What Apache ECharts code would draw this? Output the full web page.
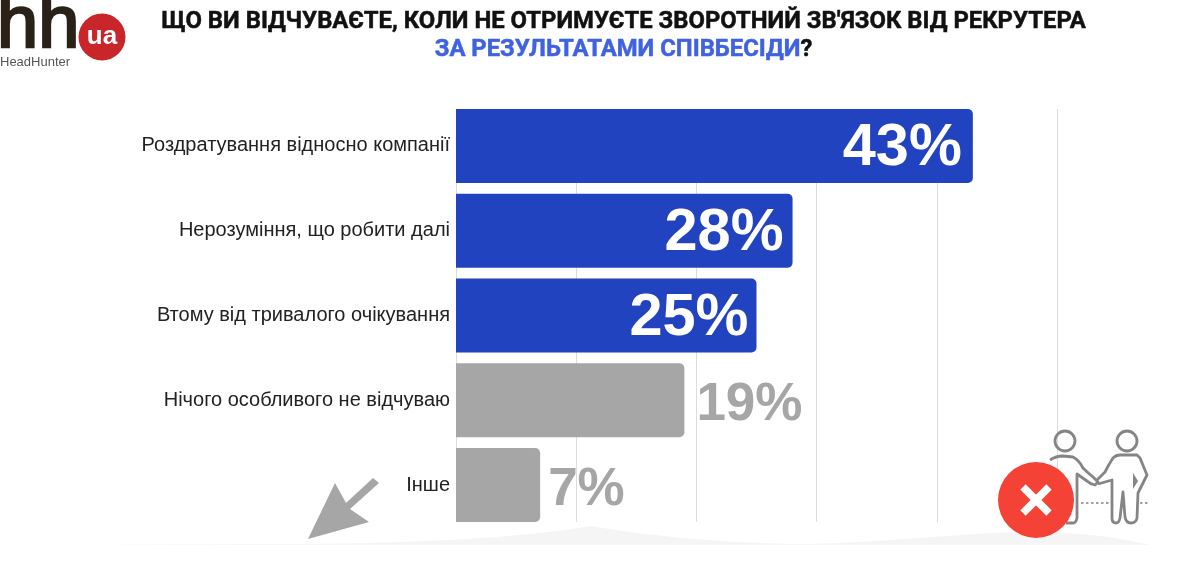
<!DOCTYPE html>
<html>
<head>
<meta charset="utf-8">
<style>html,body{margin:0;padding:0;background:#fff}#chart{width:1200px;height:566px}</style>
<script src="https://cdn.jsdelivr.net/npm/echarts@6/dist/echarts.min.js"></script>
</head>
<body>
<div id="chart"></div>
<script>
const categories = ['Роздратування відносно компанії', 'Нерозуміння, що робити далі', 'Втому від тривалого очікування', 'Нічого особливого не відчуваю', 'Інше'];
const values = [43, 28, 25, 19, 7];
const barColors = ['#2143c0', '#2143c0', '#2143c0', '#a6a6a6', '#a6a6a6'];
const labelInside = [true, true, true, false, false];
const labelNudgeX = [0, 2, 3, 1, -3];
const titleDark = 'ЩО ВИ ВІДЧУВАЄТЕ, КОЛИ НЕ ОТРИМУЄТЕ ЗВОРОТНИЙ ЗВ\'ЯЗОК ВІД РЕКРУТЕРА';
const titleBlue = 'ЗА РЕЗУЛЬТАТАМИ СПІВБЕСІДИ';

const chart = echarts.init(document.getElementById('chart'), null, { renderer: 'canvas' });

const barData = values.map((v, i) => ({
  value: v,
  itemStyle: { color: barColors[i], borderRadius: [0, 5, 5, 0] },
  label: {
    position: labelInside[i] ? 'insideRight' : 'right',
    distance: 11,
    offset: [labelNudgeX[i], labelInside[i] ? 3 : 5],
    fontSize: labelInside[i] ? 59.5 : 53,
    color: labelInside[i] ? '#ffffff' : '#a6a6a6'
  }
}));

// Free-form outlines go through custom series, which accept SVG path data.
const pathSeries = (z, items) => ({
  type: 'custom',
  coordinateSystem: 'none',
  silent: true,
  z: z,
  data: [0],
  renderItem: () => ({
    type: 'group',
    children: items.map(it => ({ type: 'path', shape: { pathData: it.d }, style: it.style }))
  })
});

const outline = { fill: 'none', stroke: '#858585', lineWidth: 2.8, lineJoin: 'round' };

chart.setOption({
  animation: false,
  backgroundColor: '#ffffff',
  title: {
    left: 618.5,
    top: 3,
    textAlign: 'center',
    text: '{d|' + titleDark + '}\n{b|' + titleBlue + '}{d|?}',
    textStyle: {
      rich: {
        d: { fontFamily: 'Roboto', fontWeight: 700, fontSize: 23.85, color: '#111111', lineHeight: 28, textBorderColor: '#111111', textBorderWidth: 0.5 },
        b: { fontFamily: 'Roboto', fontWeight: 700, fontSize: 23.85, color: '#3f62e0', lineHeight: 28, textBorderColor: '#3f62e0', textBorderWidth: 0.5 }
      }
    }
  },
  grid: [
    { left: 456, width: 601, top: 103.6, height: 423.8 },
    { left: 456, width: 601, top: 109, height: 413 }
  ],
  xAxis: [
    { gridIndex: 0, type: 'value', min: 0, max: 50, interval: 10, show: false },
    {
      gridIndex: 1, type: 'value', min: 0, max: 50, interval: 10,
      axisLine: { show: false }, axisTick: { show: false }, axisLabel: { show: false },
      splitLine: { show: true, lineStyle: { color: '#dcdcdc', width: 1 } }
    }
  ],
  yAxis: [
    {
      gridIndex: 0, type: 'category', inverse: true, data: categories,
      axisLine: { show: false }, axisTick: { show: false },
      axisLabel: { fontFamily: 'Liberation Sans', fontSize: 20, color: '#222222', margin: 6 }
    },
    { gridIndex: 1, type: 'category', data: [''], show: false }
  ],
  series: [
    pathSeries(1, [
      { d: 'M60 545 L300 544 C420 543 520 538 590 526 C650 536 720 543 800 544 C880 543 950 534 1020 532 C1080 531 1120 538 1150 545 Z', style: { fill: '#f5f5f5' } }
    ]),
    {
      type: 'bar',
      xAxisIndex: 0,
      yAxisIndex: 0,
      data: barData,
      barWidth: 74,
      z: 3,
      label: {
        show: true,
        formatter: '{c}%',
        fontFamily: 'Liberation Sans',
        fontWeight: 700
      }
    },
    pathSeries(4, [
      // arrow pointing down-left
      { d: 'M379 483 L373 478 L346 503 L335 483 L308 539 L369 522 L350 509 Z', style: { fill: '#a6a6a6' } },
      // two figures shaking hands
      { d: 'M1050 460 Q1056 456 1063 456 L1073 457 Q1079 460 1083 468 Q1088 473 1093 477 L1098 482 L1095 485 Q1090 484 1087 481 L1077 474 L1077 518 Q1076 523 1073 523 L1066 523', style: outline },
      { d: 'M1097 480 L1105 472 Q1109 464 1113 458 Q1116 455 1120 455 L1137 455 L1140 458 L1147 475 L1138 493 L1137 518 Q1136 523 1131 523 Q1126 523 1125 517 L1123 492 L1120 518 Q1119 523 1116 523 Q1112 523 1112 518 L1112 480 L1105 482 L1098 484', style: outline },
      { d: 'M1133 473 L1138 481 L1133 489 Z', style: { fill: '#858585' } },
      { d: 'M1081 503 L1110 503 M1140 503 L1150 503', style: { fill: 'none', stroke: '#a0a0a0', lineWidth: 2, lineDash: [2.5, 2.5] } }
    ])
  ],
  graphic: [
    // logo
    { type: 'text', z: 5, x: -3, y: -10, style: { text: 'hh', fontFamily: 'Liberation Sans', fontSize: 74, fill: '#2a2118', stroke: '#2a2118', lineWidth: 2.5 } },
    { type: 'text', z: 5, x: 0, y: 56, style: { text: 'HeadHunter', fontFamily: 'Liberation Sans', fontSize: 13, fill: '#555555' } },
    { type: 'circle', z: 5, shape: { cx: 102, cy: 37, r: 23.5 }, style: { fill: '#c9262b' } },
    { type: 'text', z: 6, x: 102, y: 37, style: { text: 'ua', fontFamily: 'Liberation Sans', fontWeight: 700, fontSize: 26, fill: '#ffffff', align: 'center', verticalAlign: 'middle' } },
    // people's heads
    { type: 'circle', z: 5, shape: { cx: 1065, cy: 441, r: 10 }, style: { fill: 'none', stroke: '#858585', lineWidth: 2.8 } },
    { type: 'circle', z: 5, shape: { cx: 1127, cy: 441, r: 10 }, style: { fill: 'none', stroke: '#858585', lineWidth: 2.8 } },
    // rejection badge
    { type: 'circle', z: 7, shape: { cx: 1036, cy: 500, r: 38 }, style: { fill: '#f44336' } },
    { type: 'line', z: 8, shape: { x1: 1023, y1: 487, x2: 1049, y2: 513 }, style: { stroke: '#ffffff', lineWidth: 7.5 } },
    { type: 'line', z: 8, shape: { x1: 1049, y1: 487, x2: 1023, y2: 513 }, style: { stroke: '#ffffff', lineWidth: 7.5 } }
  ]
});
</script>
</body>
</html>
